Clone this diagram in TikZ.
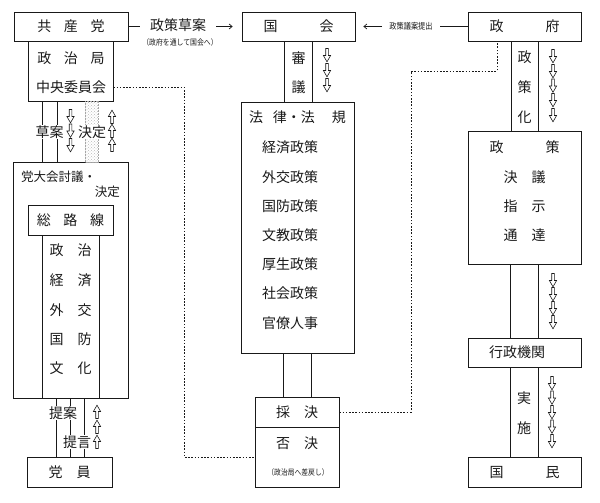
\documentclass[tikz,border=0pt]{standalone}
\usepackage{fontspec}
\setmainfont{Noto Sans CJK JP}
\usetikzlibrary{arrows.meta,patterns}
\definecolor{ink}{gray}{0.1}
\begin{document}
\begin{tikzpicture}[x=1pt,y=-1pt,
  every node/.style={font=\fontsize{14pt}{16pt}\selectfont, text=ink, inner sep=0pt},
  box/.style={draw=ink, line width=0.7pt, rectangle, inner sep=0pt},
  ln/.style={draw=ink, line width=0.7pt},
  dots/.style={draw=ink, line width=0.7pt, dash pattern=on 1.6pt off 1.6pt},
  lbl/.style={fill=white, inner sep=1pt},
  midf/.style={font=\fontsize{12.5pt}{14pt}\selectfont},
  small/.style={font=\fontsize{8.5pt}{10pt}\selectfont},
  tiny/.style={font=\fontsize{8pt}{9pt}\selectfont},
  arr/.style={ln, -{Straight Barb[length=3pt,width=5pt]}},
  hol/.style={draw=ink, line width=0.6pt, fill=white},
  stripe/.style={draw=gray!70, densely dotted, line width=0.5pt, pattern=crosshatch dots, pattern color=gray!55},
  darr/.pic={\path[hol] (-1.3,-6.5) -- (-1.3,0.5) -- (-3.6,0.5) -- (0,6.8) -- (3.6,0.5) -- (1.3,0.5) -- (1.3,-6.5) -- cycle;},
  uarr/.pic={\path[hol] (-1.3,6.5) -- (-1.3,-0.5) -- (-3.6,-0.5) -- (0,-6.8) -- (3.6,-0.5) -- (1.3,-0.5) -- (1.3,6.5) -- cycle;},
]
\useasboundingbox (0,0) rectangle (600,503);

% ---------------- left column ----------------
\node[box, minimum width=114, minimum height=29] (kyosan) at (71,26.5) {共\hspace{0.9em}産\hspace{0.9em}党};
\node[box, minimum width=85, minimum height=60] (seiji) at (70.5,71) {};
\node (seijikyoku) at (71,58) {政\hspace{0.9em}治\hspace{0.9em}局};
\node (chuo) at (71,87) {中央委員会};

\node[box, minimum width=115, minimum height=236] (taikai) at (70.5,280) {};
\node[midf, anchor=west] (toutai) at (21,177) {党大会討議・};
\node[midf, anchor=east] (kettei2) at (120,192) {決定};
\node[box, minimum width=85, minimum height=30] (sorosen) at (70.5,220) {総\hspace{0.9em}路\hspace{0.9em}線};
\node[box, minimum width=57, minimum height=163] (inner) at (70.5,316.5) {};
\node (f1) at (70.5,250) {政\hspace{1em}治};
\node (f2) at (70.5,280) {経\hspace{1em}済};
\node (f3) at (70.5,310) {外\hspace{1em}交};
\node (f4) at (70.5,339) {国\hspace{1em}防};
\node (f5) at (70.5,368) {文\hspace{1em}化};

\node[box, minimum width=85, minimum height=30] (toin) at (69.5,472) {党\hspace{1em}員};

% connectors seiji -> taikai
\draw[ln] ([xshift=-28.5]seiji.south) -- ([xshift=-28.5]seiji.south |- taikai.north);
\draw[ln] ([xshift=-13.5]seiji.south) -- ([xshift=-13.5]seiji.south |- taikai.north);
\node[stripe, minimum width=13, minimum height=61] (band) at (92,131.5) {};
\node[lbl] (soan) at (49.5,132) {草案};
\node[lbl] (kettei) at (92,132) {決定};
\foreach \y in {116,130.5,145} \pic at (70.5,\y) {darr};
\foreach \y in {117,131,145} \pic at (112,\y) {uarr};

% connectors taikai -> toin
\draw[ln] ([xshift=-14.5]taikai.south) -- ([xshift=-14.5]taikai.south |- toin.north);
\draw[ln] ([xshift=-0.5]taikai.south) -- ([xshift=-0.5]taikai.south |- toin.north);
\draw[ln] ([xshift=13.5]taikai.south) -- ([xshift=13.5]taikai.south |- toin.north);
\node[lbl] (teian) at (63,413) {提案};
\node[lbl] (teigen) at (77,442) {提言};
\foreach \y in {412,427,442} \pic at (97,\y) {uarr};

% ---------------- middle column ----------------
\node[box, minimum width=113, minimum height=29] (kokkai) at (298.5,26.5) {国\hspace{3em}会};
\node[box, minimum width=113, minimum height=251] (houki) at (297.5,227.5) {};
\draw[ln] ([xshift=-14]kokkai.south) -- ([xshift=-14]kokkai.south |- houki.north);
\draw[ln] ([xshift=14]kokkai.south) -- ([xshift=14]kokkai.south |- houki.north);
\node (shin) at (298.5,58) {審};
\node (gi) at (298.5,87) {議};
\foreach \y in {55,70,85} \pic at (327,\y) {darr};

\node (h0) at (297.5,117) {法\hspace{0.7em}律・法\hspace{1.2em}規};
\node (h1) at (290,147) {経済政策};
\node (h2) at (290,177) {外交政策};
\node (h3) at (290,206) {国防政策};
\node (h4) at (290,235) {文教政策};
\node (h5) at (290,264) {厚生政策};
\node (h6) at (290,293) {社会政策};
\node (h7) at (290,323) {官僚人事};

\node[box, minimum width=84, minimum height=30] (saiketsu) at (297,412) {採\hspace{1em}決};
\node[box, minimum width=84, minimum height=60] (hiketsu) at (297,457) {};
\node (hk) at (297,443) {否\hspace{1em}決};
\node[tiny] (sashimodoshi) at (298,472) {\scalebox{0.85}[1]{（政治局へ差戻し）}};
\draw[ln] ([xshift=-14.5]houki.south) -- ([xshift=-14.5]houki.south |- saiketsu.north);
\draw[ln] ([xshift=13.5]houki.south) -- ([xshift=13.5]houki.south |- saiketsu.north);

% ---------------- right column ----------------
\node[box, minimum width=113, minimum height=29] (seifu) at (524.5,26.5) {政\hspace{3em}府};
\node[box, minimum width=113, minimum height=133] (seisaku) at (524.5,197.5) {};
\node (s0) at (524.5,147) {政\hspace{3em}策};
\node (s1) at (524.5,177) {決\hspace{1em}議};
\node (s2) at (524.5,206) {指\hspace{1em}示};
\node (s3) at (524.5,235) {通\hspace{1em}達};
\node[box, minimum width=113, minimum height=29] (gyosei) at (524.5,352.5) {};
\node (gyoseitxt) at (517,352.5) {行政機関};
\node[box, minimum width=113, minimum height=30] (kokumin) at (524.5,472) {国\hspace{3em}民};

\draw[ln] ([xshift=-13.5]seifu.south) -- ([xshift=-13.5]seifu.south |- seisaku.north);
\draw[ln] ([xshift=13.5]seifu.south) -- ([xshift=13.5]seifu.south |- seisaku.north);
\node (k1) at (524.5,57) {政};
\node (k2) at (524.5,87) {策};
\node (k3) at (524.5,117) {化};
\foreach \y in {56,71,85.5,100,115} \pic at (553,\y) {darr};

\draw[ln] ([xshift=-14.5]seisaku.south) -- ([xshift=-14.5]seisaku.south |- gyosei.north);
\draw[ln] ([xshift=13.5]seisaku.south) -- ([xshift=13.5]seisaku.south |- gyosei.north);
\foreach \y in {280,294,308,322} \pic at (553,\y) {darr};

\draw[ln] ([xshift=-14.5]gyosei.south) -- ([xshift=-14.5]gyosei.south |- kokumin.north);
\draw[ln] ([xshift=13.5]gyosei.south) -- ([xshift=13.5]gyosei.south |- kokumin.north);
\node (ji) at (524,398) {実};
\node (shi) at (524,428) {施};
\foreach \y in {383,397.5,412,426.5,441} \pic at (552,\y) {darr};

% ---------------- top connectors ----------------
\node[inner xsep=10pt, inner ysep=1pt] (draft) at (178,25.5) {政策草案};
\node[tiny] (via) at (180,42) {\scalebox{0.86}[1]{（政府を通して国会へ）}};
\draw[ln] (kyosan.east) -- (kyosan.east -| draft.west);
\draw[arr, shorten >=9pt] (draft.east |- kokkai.west) -- (kokkai.west);

\node[small, inner xsep=7pt, inner ysep=1pt] (bill) at (411,26.5) {\scalebox{0.85}[1]{政策議案提出}};
\draw[ln] (seifu.west) -- (bill.east);
\draw[arr, shorten >=8pt] (bill.west) -- (kokkai.east);

% ---------------- dotted connectors ----------------
\coordinate (d1) at (184,457);
\draw[dots] (chuo.east -| seiji.east) -| (d1) -- (hiketsu.west);
\coordinate (d2) at (411,71);
\draw[dots] (saiketsu.east) -| (d2) -| ([xshift=-27.5]seifu.south);
\end{tikzpicture}
\end{document}
